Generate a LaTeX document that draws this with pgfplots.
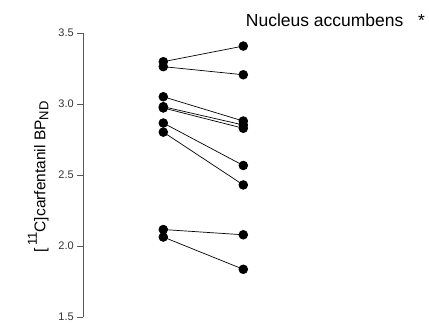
\documentclass[border=0pt]{standalone}
\usepackage{pgfplots}
\pgfplotsset{compat=1.18}
\usepackage{fontspec}
\setmainfont{Liberation Sans}
\begin{document}
\begin{tikzpicture}
\begin{axis}[
  at={(0,0)}, anchor=south west,
  scale only axis,
  width=320bp, height=284bp,
  xmin=0, xmax=4, ymin=1.5, ymax=3.5,
  axis x line=none,
  axis y line=left,
  y axis line style={-, draw=black!65, line width=0.8pt},
  ytick={1.5,2,2.5,3,3.5},
  yticklabel style={/pgf/number format/.cd, fixed, fixed zerofill, precision=1, /tikz/.cd, font=\fontsize{11bp}{11bp}\selectfont, text=black!80},
  /pgf/number format/assume math mode=true,
  tick align=outside,
  major tick length=6bp,
  tick style={draw=black!65, line width=0.8pt},
  clip=false,
]
\addplot[black, line width=0.7pt, mark=*, mark size=4.4pt] coordinates {(1,3.298) (2,3.408)};
\addplot[black, line width=0.7pt, mark=*, mark size=4.4pt] coordinates {(1,3.263) (2,3.206)};
\addplot[black, line width=0.7pt, mark=*, mark size=4.4pt] coordinates {(1,3.051) (2,2.880)};
\addplot[black, line width=0.7pt, mark=*, mark size=4.4pt] coordinates {(1,2.981) (2,2.852)};
\addplot[black, line width=0.7pt, mark=*, mark size=4.4pt] coordinates {(1,2.972) (2,2.829)};
\addplot[black, line width=0.7pt, mark=*, mark size=4.4pt] coordinates {(1,2.866) (2,2.567)};
\addplot[black, line width=0.7pt, mark=*, mark size=4.4pt] coordinates {(1,2.802) (2,2.430)};
\addplot[black, line width=0.7pt, mark=*, mark size=4.4pt] coordinates {(1,2.116) (2,2.079)};
\addplot[black, line width=0.7pt, mark=*, mark size=4.4pt] coordinates {(1,2.063) (2,1.836)};
\end{axis}
\node[anchor=base west, inner sep=0pt, font=\fontsize{17.5bp}{17.5bp}\selectfont] at (162.4bp,290.3bp) {Nucleus accumbens};
\node[anchor=base west, inner sep=0pt, font=\fontsize{17.5bp}{17.5bp}\selectfont] at (334.5bp,290.3bp) {*};
\node[rotate=90, anchor=base, inner sep=0pt, font=\fontsize{15.5bp}{15.5bp}\selectfont] at (-38bp,140bp)
  {[\,\raisebox{0.55em}{\fontsize{13bp}{13bp}\selectfont 11}C]carfentanil BP\raisebox{-0.2em}{\fontsize{13bp}{13bp}\selectfont ND}};
\path[use as bounding box] (-83.3bp,-8bp) rectangle (345.7bp,317bp);
\end{tikzpicture}
\end{document}
